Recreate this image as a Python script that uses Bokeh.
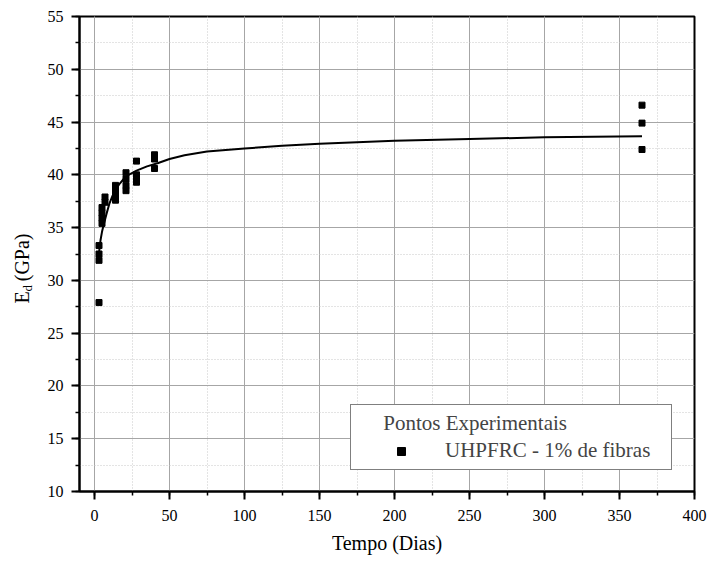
from bokeh.plotting import figure
from bokeh.models import Legend, LegendItem, Title, SingleIntervalTicker, Range1d
from bokeh.embed import file_html
from bokeh.resources import INLINE

# ---- data ----
age_3 = [3, 3, 3, 3]
E_3 = [33.3, 32.5, 31.9, 27.9]
age_5 = [5, 5, 5, 5]
E_5 = [36.9, 36.4, 35.9, 35.4]
age_7 = [7, 7]
E_7 = [37.9, 37.4]
age_14 = [14, 14, 14, 14]
E_14 = [39.0, 38.6, 38.1, 37.6]
age_21 = [21, 21, 21, 21]
E_21 = [40.2, 39.6, 39.0, 38.5]
age_28 = [28, 28, 28, 28]
E_28 = [41.3, 40.0, 39.6, 39.3]
age_40 = [40, 40, 40]
E_40 = [41.9, 41.5, 40.6]
age_365 = [365, 365, 365]
E_365 = [46.6, 44.9, 42.4]

curve_t = [2.5, 3, 4, 5, 6, 8, 10, 12, 14, 17, 20, 24, 28, 35, 42, 50, 60,
           75, 100, 125, 150, 200, 250, 300, 365]
curve_E = [31.9, 32.6, 33.8, 34.6, 35.2, 36.3, 37.3, 38.0, 38.6, 39.2, 39.7,
           40.1, 40.4, 40.8, 41.1, 41.5, 41.85, 42.2, 42.5, 42.75, 42.95, 43.22,
           43.4, 43.55, 43.66]

x_label = "Tempo (Dias)"
y_label_main = "E"
y_label_sub = "d"
y_label_unit = "(GPa)"
series_label = "UHPFRC - 1% de fibras"
legend_title = "Pontos Experimentais"

ages = age_3 + age_5 + age_7 + age_14 + age_21 + age_28 + age_40 + age_365
moduli = E_3 + E_5 + E_7 + E_14 + E_21 + E_28 + E_40 + E_365

FONT = "Liberation Serif"
NBSP = "\u00a0"

p = figure(width=709, height=567, x_range=Range1d(-10, 400), y_range=Range1d(10, 55),
           output_backend="svg", toolbar_location=None,
           min_border_left=79, min_border_right=15, min_border_top=16, min_border_bottom=76)
p.background_fill_color = "white"
p.border_fill_color = "white"
p.outline_line_color = "black"
p.outline_line_width = 2

xt = SingleIntervalTicker(interval=50, num_minor_ticks=2)
yt = SingleIntervalTicker(interval=5, num_minor_ticks=2)
p.xaxis.ticker = xt
p.yaxis.ticker = yt
p.xgrid.ticker = xt
p.ygrid.ticker = yt

for ax in (p.xaxis, p.yaxis):
    ax.axis_line_width = 2
    ax.axis_line_color = "black"
    ax.major_tick_out = 8
    ax.major_tick_in = 0
    ax.minor_tick_out = 4
    ax.minor_tick_in = 0
    ax.major_tick_line_width = 2
    ax.minor_tick_line_width = 1.5
    ax.major_tick_line_color = "black"
    ax.minor_tick_line_color = "black"
    ax.major_label_text_font = FONT
    ax.major_label_text_font_size = "16px"
    ax.major_label_text_color = "black"
    ax.axis_label_text_font = FONT
    ax.axis_label_text_font_style = "normal"
    ax.axis_label_text_color = "black"

p.xaxis.major_label_standoff = 10
p.yaxis.major_label_standoff = 8
p.xaxis.axis_label = x_label
p.xaxis.axis_label_text_font_size = "20px"
p.xaxis.axis_label_standoff = 8

# subscript "d" of E_d: the y axis' own label (padded so it sits low)
p.yaxis.axis_label = y_label_sub + NBSP * 21
p.yaxis.axis_label_text_font_size = "13px"
p.yaxis.axis_label_standoff = 10

# "E  (GPa)" as a left-side title, overlapping the subscript's panel
p.add_layout(Title(text=y_label_main + NBSP * 2 + y_label_unit, align="left", offset=188,
                   standoff=-32, vertical_align="bottom",
                   text_font=FONT, text_font_size="20px", text_font_style="normal",
                   text_color="black"), "left")

p.grid.grid_line_color = "#a6a6a6"
p.grid.grid_line_width = 1
p.grid.minor_grid_line_color = "#c8c8c8"
p.grid.minor_grid_line_dash = "1 2"
p.grid.minor_grid_line_width = 1

p.line(curve_t, curve_E, line_width=2, color="black")
r_pts = p.scatter(ages, moduli, marker="square", size=6, color="black")

legend = Legend(items=[LegendItem(label=series_label, renderers=[r_pts])],
                title=NBSP * 5 + legend_title,
                location=(271, 21), margin=0, padding=6, spacing=0,
                glyph_width=88, glyph_height=20, label_standoff=0, label_width=220,
                border_line_color="black", border_line_width=1.5,
                background_fill_color="white", background_fill_alpha=1,
                label_text_font=FONT, label_text_font_size="21px",
                title_text_font=FONT, title_text_font_size="21px",
                title_text_font_style="normal", title_standoff=2)
p.add_layout(legend)

open("out.html", "w").write(file_html(p, INLINE))
